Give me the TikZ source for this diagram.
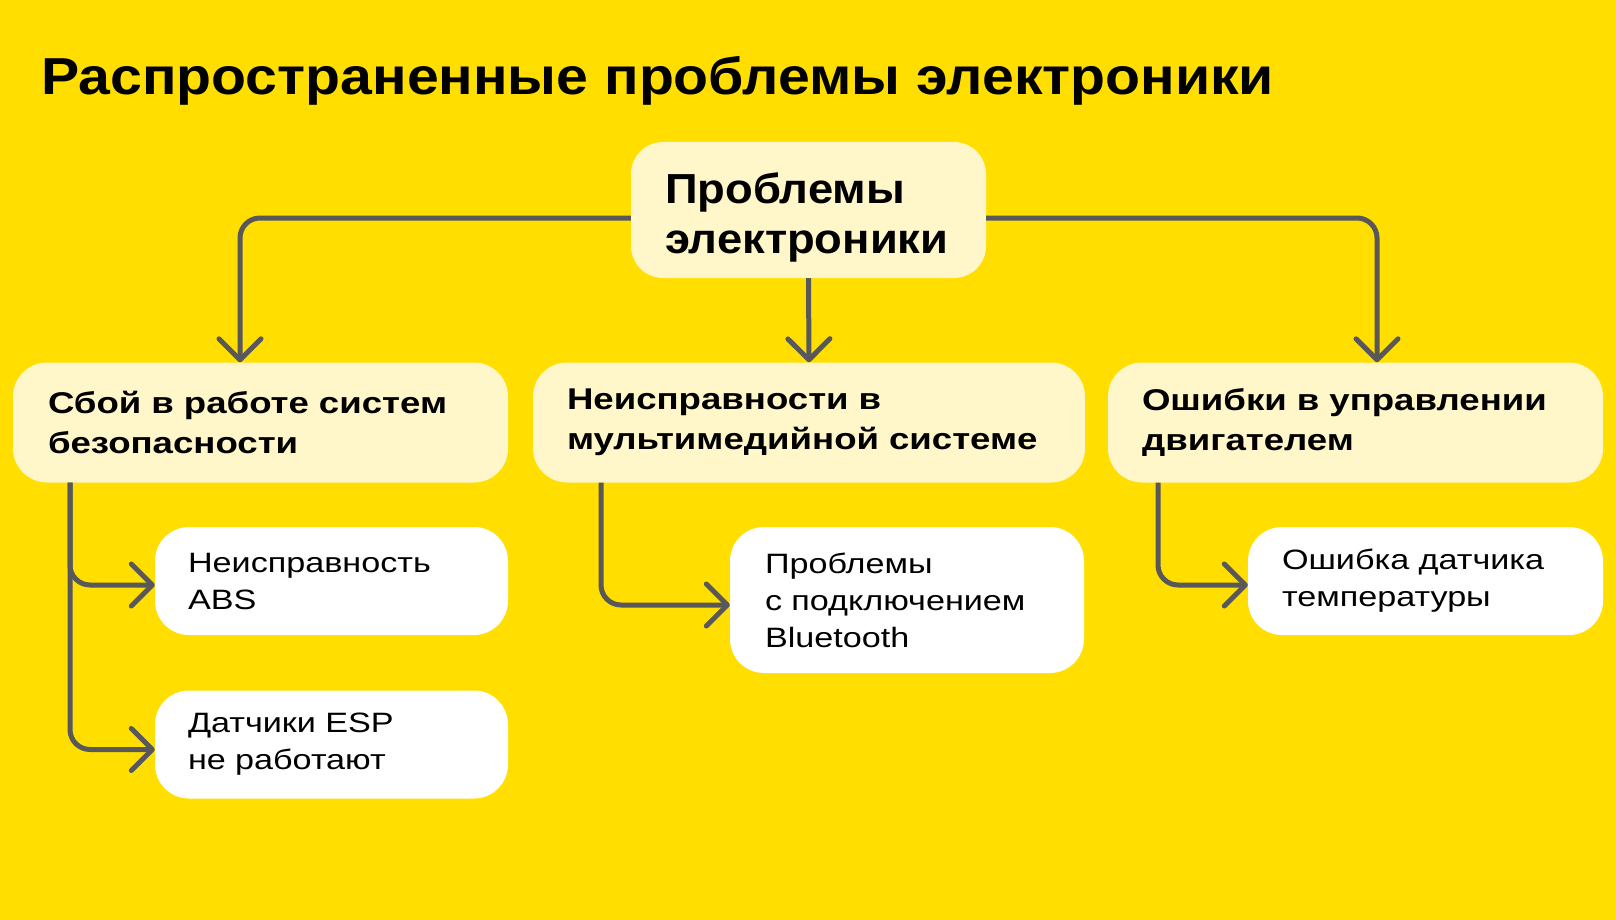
\documentclass[tikz,border=0pt]{standalone}
\usepackage{fontspec}
\setmainfont{Liberation Sans}[FakeStretch=1.22]
\newfontfamily\bigfont{Liberation Sans}[FakeStretch=1.08]
\newfontfamily\titlefont{Liberation Sans}[FakeStretch=1.10]
\usetikzlibrary{arrows.meta,positioning,calc}
\definecolor{bgyellow}{HTML}{FFDE00}
\definecolor{cream}{HTML}{FFF6C9}
\definecolor{linegray}{HTML}{58585A}
\tikzset{
  catbox/.style={fill=cream, rounded corners=34pt, align=left, inner ysep=0pt,
     font=\fontsize{30}{40}\selectfont\bfseries, text=black},
  leafbox/.style={fill=white, rounded corners=34pt, align=left, inner ysep=0pt,
     font=\fontsize{28}{37}\selectfont, text=black},
  conn/.style={draw=linegray, line width=5pt, rounded corners=20pt,
     -{Straight Barb[length=21pt,width=42pt,round]}},
}
\begin{document}
\begin{tikzpicture}[x=1pt,y=-1pt]
\fill[bgyellow] (0,0) rectangle (1616,920);
\useasboundingbox (0,0) rectangle (1616,920);
\node[anchor=base west, inner sep=0pt, font=\titlefont\fontsize{52}{60}\selectfont\bfseries] (title) at (41,95) {Распространенные проблемы электроники};
\node[catbox, minimum width=355pt, text width=287pt, inner xsep=34pt, minimum height=136pt, rounded corners=32pt,
      font=\bigfont\fontsize{42}{50}\selectfont\bfseries] (root) at (808.5,210) {\rule{0pt}{45pt}Проблемы\\электроники};
\node[catbox, minimum width=495pt, text width=425pt, inner xsep=35pt, minimum height=120pt] (L1) at (260.5,422.5) {Сбой в работе систем\\безопасности};
\node[catbox, minimum width=552pt, text width=484pt, inner xsep=34pt, minimum height=120pt] (M1) at (809,422.5) {Неисправности в\\мультимедийной системе};
\node[catbox, minimum width=495pt, text width=427pt, inner xsep=34pt, minimum height=120pt] (R1) at (1355.5,422.5) {Ошибки в управлении\\двигателем};
\node[leafbox, minimum width=353pt, text width=287pt, inner xsep=33pt, minimum height=108pt] (A) at (331.5,581) {Неисправность\\ABS};
\node[leafbox, minimum width=353pt, text width=287pt, inner xsep=33pt, minimum height=108pt] (B) at (331.5,744.5) {Датчики ESP\\не работают};
\node[leafbox, minimum width=354pt, text width=284pt, inner xsep=35pt, minimum height=146pt] (C) at (907,600) {Проблемы\\с подключением\\Bluetooth};
\node[leafbox, minimum width=355pt, text width=287pt, inner xsep=34pt, minimum height=108pt] (D) at (1425.5,581) {Ошибка датчика\\температуры};
\coordinate (lx) at (70,0);
\coordinate (mx) at (601,0);
\coordinate (rx) at (1158,0);
\draw[conn] ([yshift=-8pt]root.west) -| ([xshift=-20.5pt]L1.north);
\draw[conn, rounded corners=0pt] (root.south) -- (M1.north);
\draw[conn] ([yshift=-8pt]root.east) -| ([xshift=21.5pt]R1.north);
\draw[conn] (L1.south -| lx) |- ([yshift=-4pt]A.west);
\draw[conn] (L1.south -| lx) |- ([yshift=-5pt]B.west);
\draw[conn] (M1.south -| mx) |- ([yshift=-5pt]C.west);
\draw[conn] (R1.south -| rx) |- ([yshift=-4pt]D.west);
\end{tikzpicture}
\end{document}
